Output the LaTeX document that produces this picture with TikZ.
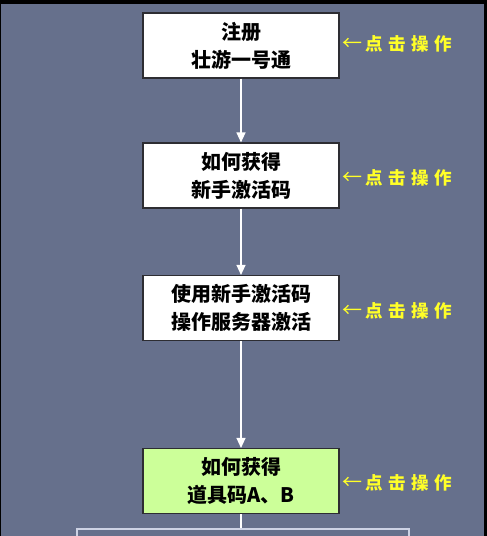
\documentclass[tikz,border=0pt]{standalone}
\usepackage{fontspec}
\newfontfamily\cjk{Noto Sans CJK SC}
\usetikzlibrary{arrows.meta}
\definecolor{bgslate}{RGB}{102,112,140}
\definecolor{boxgreen}{RGB}{204,255,153}
\definecolor{boxedge}{RGB}{45,45,50}
\definecolor{paleedge}{RGB}{205,210,228}
\definecolor{hintyellow}{RGB}{255,255,40}
\tikzset{
  stepbox/.style={draw=boxedge, line width=1.1pt, fill=white, minimum width=196pt, minimum height=65pt,
    inner sep=0pt, align=center, font={\cjk\bfseries\fontsize{20}{28}\selectfont}, text=black},
  hint/.style={anchor=west, inner sep=0pt, text=hintyellow, font={\cjk\bfseries\fontsize{17.5}{19}\selectfont}},
  flow/.style={draw=white, line width=1.3pt, -{Triangle[width=9pt,length=10pt]}},
  plainflow/.style={draw=white, line width=1.3pt},
}
\newcommand{\hinttext}{{\fontsize{20}{19}\selectfont\textmd{←}}\kern3.5pt 点\kern5.5pt 击\kern5.5pt 操\kern5.5pt 作}
\begin{document}
\begin{tikzpicture}[x=1pt,y=-1pt]
\useasboundingbox (0,0) rectangle (487,536);
\clip (0,0) rectangle (487,536);
\fill[black] (0,0) rectangle (487,536);
\fill[bgslate] (0.6,3.5) rectangle (484,540);
\node[stepbox] (b1) at (241,45.5) {注册\\壮游一号通};
\node[stepbox] (b2) at (241,175.5) {如何获得\\新手激活码};
\node[stepbox] (b3) at (241,308) {使用新手激活码\\操作服务器激活};
\node[stepbox, fill=boxgreen] (b4) at (241,481) {如何获得\\道具码A、B};
\node[draw=paleedge, line width=1.5pt, minimum width=332pt, minimum height=71pt, inner sep=0pt] (b5) at (243,564.5) {};
\node[hint] (h1) at (342,44) {\hinttext};
\node[hint] (h2) at (342,178) {\hinttext};
\node[hint] (h3) at (342,311) {\hinttext};
\node[hint] (h4) at (342,483) {\hinttext};
\draw[flow] (b1.south) -- (b2.north);
\draw[flow] (b2.south) -- (b3.north);
\draw[flow] (b3.south) -- (b4.north);
\draw[plainflow] (b4.south) -- (b4.south |- b5.north);
\end{tikzpicture}
\end{document}
